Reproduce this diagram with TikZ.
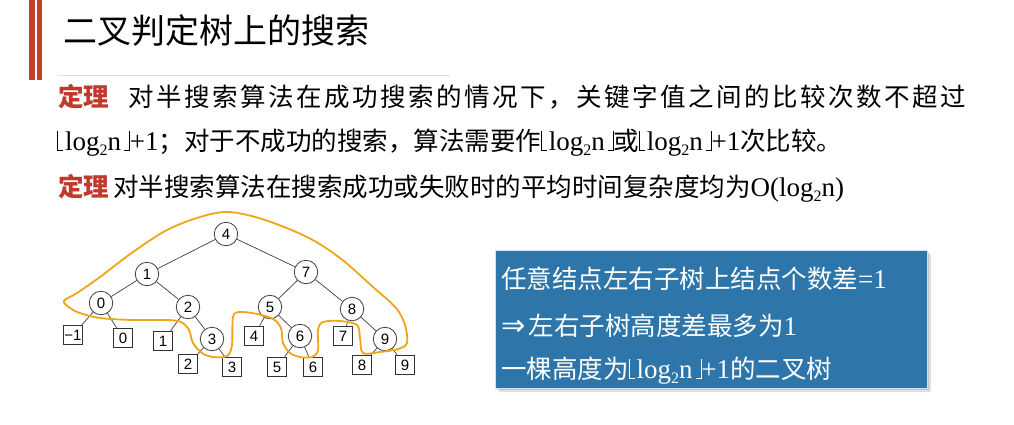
\documentclass[tikz,border=0pt]{standalone}
\usepackage{fontspec}
\setmainfont{Liberation Serif}
\newfontfamily\cjk{Noto Sans CJK SC}
\newfontfamily\digitfont{Liberation Sans}
\newfontfamily\symfont{DejaVu Sans}
\definecolor{barred}{RGB}{192,64,42}
\definecolor{thmred}{RGB}{192,57,43}
\definecolor{boxblue}{RGB}{46,117,170}
\definecolor{hullorange}{RGB}{240,165,20}
% Latin pieces (Times-like) inside CJK text
\newcommand\lat[1]{{\rmfamily\fontsize{27}{30}\selectfont #1}}
% thin floor brackets
\newcommand\flL{\rule[-1pt]{0.8pt}{20pt}\rule[-1pt]{5pt}{0.8pt}}
\newcommand\flR{\rule[-1pt]{5pt}{0.8pt}\rule[-1pt]{0.8pt}{20pt}}
\newcommand\subtwo{\raisebox{-5pt}{\fontsize{16}{16}\selectfont 2}}
\newcommand\floorlog{\lat{\flL\hspace{2pt}log\subtwo n\hspace{3pt}\flR}}
% spread a run of CJK characters evenly (justified line)
\def\spreadloop#1{\ifx#1\relax\else#1\hspace{2.5pt}\expandafter\spreadloop\fi}
\newcommand\spreadchars[1]{\spreadloop#1\relax}
\tikzset{
  txt/.style={anchor=base west, inner sep=0pt, font=\cjk\fontsize{25.5}{30}\selectfont},
  thm/.style={txt, text=thmred, font=\cjk\bfseries\fontsize{25.5}{30}\selectfont},
  circ/.style={circle, draw=black!75, line width=0.8pt, minimum size=23.5pt, inner sep=0pt,
    fill=white, font=\digitfont\fontsize{15}{15}\selectfont},
  leaf/.style={rectangle, draw=black!80, line width=1pt, minimum size=19.5pt, inner sep=0pt,
    fill=white, font=\digitfont\fontsize{15}{15}\selectfont},
  link/.style={draw=black!72, line width=0.75pt},
  hull/.style={draw=hullorange, line width=1.8pt},
}
\begin{document}
\begin{tikzpicture}[x=1pt,y=-1pt]
\path[use as bounding box, fill=white] (0,0) rectangle (1014,424);

% header bars and rule
\fill[barred] (29.3,0) rectangle (34.7,80);
\fill[barred] (36.7,0) rectangle (42,80);
\draw[black!13, line width=1pt] (57,75) -- (450,75);
\node[anchor=base west, inner sep=0pt, font=\cjk\fontsize{34}{40}\selectfont] (title) at (63,43) {二叉判定树上的搜索};

% theorems
\node[thm] (t1) at (58,106) {定理};
\node[txt] (l1) at (128,106) {\spreadchars{对半搜索算法在成功搜索的情况下，关键字值之间的比较次数不超过}};
\node[txt] (l2) at (57,150) {\floorlog\lat{+1}；对于不成功的搜索，算法需要作\floorlog 或\floorlog\lat{+1}次比较。};
\node[thm] (t2) at (58,196) {定理};
\node[txt] (l3) at (113,196) {对半搜索算法在搜索成功或失败时的平均时间复杂度均为\lat{O(log\subtwo n)}};

% decision tree: inner nodes
\node[circ] (c4) at (226,234) {4};
\node[circ] (c1) at (147,274) {1};
\node[circ] (c7) at (306,272) {7};
\node[circ] (c0) at (101,303) {0};
\node[circ] (c2) at (188,307) {2};
\node[circ] (c5) at (270,307) {5};
\node[circ] (c8) at (352,309) {8};
\node[circ] (c3) at (212,339) {3};
\node[circ] (c6) at (300,336) {6};
\node[circ] (c9) at (385,339) {9};
% external (failure) nodes
\node[leaf] (sm1) at (73,335) {−1};
\node[leaf] (s0) at (123,338) {0};
\node[leaf] (s1) at (163,341) {1};
\node[leaf] (s2) at (188,364) {2};
\node[leaf] (s3) at (232,367) {3};
\node[leaf] (s4) at (254,336) {4};
\node[leaf] (s5) at (277,367) {5};
\node[leaf] (s6) at (313,367) {6};
\node[leaf] (s7) at (343,336) {7};
\node[leaf] (s8) at (362,365) {8};
\node[leaf] (s9) at (405,365) {9};
% branches
\foreach \a/\b in {c4/c1,c4/c7,c1/c0,c1/c2,c0/sm1,c0/s0,c2/s1,c2/c3,c3/s2,c3/s3,
                   c7/c5,c7/c8,c5/s4,c5/c6,c6/s5,c6/s6,c8/s7,c8/c9,c9/s8,c9/s9}
  \draw[link] (\a) -- (\b);

% outline of the internal nodes
\draw[hull] plot[smooth cycle, tension=0.55] coordinates {
  (64,301) (77,293) (100,277) (133,252) (167,230) (200,217) (228,212)
  (262,219) (307,237) (340,258) (373,287) (396,308) (405,325) (407,343)
  (398,349) (380,352) (363,353) (360,338) (357,325) (340,321) (323,322)
  (318,330) (318,350) (312,357) (300,357) (290,353) (283,343) (281,328)
  (273,319) (257,314) (240,312) (233,317) (232,345) (227,356) (213,357)
  (202,353) (193,343) (189,330) (181,322) (167,320) (133,320) (100,318)
  (80,313) (70,308)};

% summary box
\fill[black, opacity=0.12] (499,254) rectangle (931,392);
\fill[black, opacity=0.12] (497,252) rectangle (929,390);
\node[draw=white!80!boxblue, line width=0.8pt, fill=boxblue, minimum width=432pt, minimum height=138pt,
      anchor=north west, inner sep=0pt] (box) at (495,250) {};
\node[txt, text=white] (b1) at (501,288) {任意结点左右子树上结点个数差\lat{=1}};
\node[txt, text=white] (b2) at (501,335) {{\symfont\fontsize{29}{29}\selectfont ⇒}\hspace{3pt}左右子树高度差最多为\lat{1}};
\node[txt, text=white] (b3) at (501,378) {一棵高度为\floorlog\lat{+1}的二叉树};
\end{tikzpicture}
\end{document}
